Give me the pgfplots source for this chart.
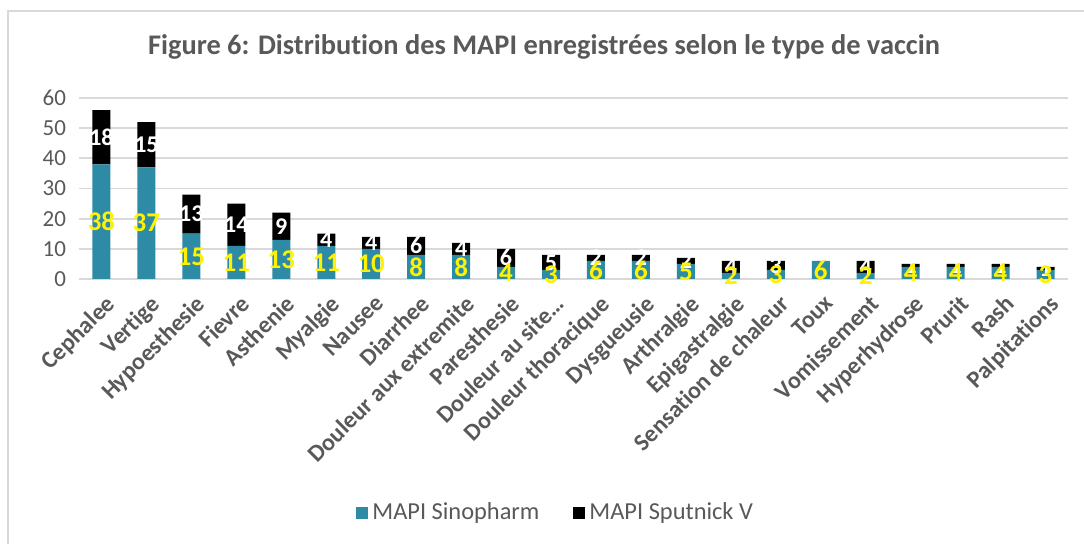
\documentclass[border=0pt]{standalone}
\usepackage{fontspec}
\setmainfont{Carlito}[Ligatures=NoCommon]
\usepackage{pgfplots}
\pgfplotsset{compat=1.18}
\definecolor{sino}{RGB}{46,139,166}
\definecolor{txtgray}{RGB}{89,89,89}
\definecolor{gridgray}{RGB}{217,217,217}

\begin{document}
\begin{tikzpicture}[x=1pt,y=1pt]
\useasboundingbox (0,0) rectangle (542,272);
\draw[gridgray, line width=0.8pt] (4,0) -- (4,266.5) -- (542,266.5);
\node[font=\fontsize{14.2}{16}\selectfont\bfseries, text=txtgray] at (272,248.5)
  {Figure 6: Distribution des MAPI enregistrées selon le type de vaccin};
\begin{axis}[
  at={(39.5pt,132.5pt)}, anchor=south west,
  scale only axis, width=494.5pt, height=90.5pt,
  ybar stacked, bar width=9pt,
  xmin=-0.5, xmax=21.5, ymin=0, ymax=60,
  ytick={0,10,...,60},
  xtick=data,
  xticklabels={Cephalee, Vertige, Hypoesthesie, Fievre, Asthenie, Myalgie, Nausee,
    Diarrhee, Douleur aux extremite, Paresthesie, Douleur au site…, Douleur thoracique,
    Dysgueusie, Arthralgie, Epigastralgie, Sensation de chaleur, Toux, Vomissement,
    Hyperhydrose, Prurit, Rash, Palpitations},
  axis line style={draw=none},
  major tick length=0pt,
  ymajorgrids, grid style={gridgray, line width=0.9pt},
  tick label style={text=txtgray},
  yticklabel style={font=\fontsize{11.5}{12}\selectfont, xshift=-3pt},
  xticklabel style={font=\fontsize{12}{14}\selectfont\bfseries, rotate=45,
    anchor=north east, inner sep=1pt, yshift=-5pt, xshift=-3pt},
  /pgf/number format/assume math mode=true,
  legend columns=2,
  legend style={at={(0.483,-1.293)}, anchor=center, draw=none,
    font=\fontsize{12.2}{14}\selectfont, text=txtgray,
    /tikz/every even column/.append style={column sep=15pt}},
  legend image code/.code={\fill[#1] (0pt,-3pt) rectangle (6pt,3pt);},
  point meta=rawy,
]
\addplot[fill=sino, draw=none,
  nodes near coords,
  every node near coord/.style={font=\fontsize{13.5}{14}\selectfont\bfseries, text=yellow,
    anchor=center}]
coordinates {
  (0,38) (1,37) (2,15) (3,11) (4,13) (5,11) (6,10) (7,8) (8,8) (9,4) (10,3)
  (11,6) (12,6) (13,5) (14,2) (15,3) (16,6) (17,2) (18,4) (19,4) (20,4) (21,3)
};
\addlegendentry{MAPI Sinopharm}
\addplot[fill=black, draw=none,
  nodes near coords,
  every node near coord/.style={font=\fontsize{12}{12}\selectfont\bfseries, text=white,
    anchor=center}]
coordinates {
  (0,18) (1,15) (2,13) (3,14) (4,9) (5,4) (6,4) (7,6) (8,4) (9,6) (10,5)
  (11,2) (12,2) (13,2) (14,4) (15,3) (16,0) (17,4) (18,1) (19,1) (20,1) (21,1)
};
\addlegendentry{MAPI Sputnick V}
\end{axis}
\end{tikzpicture}
\end{document}
